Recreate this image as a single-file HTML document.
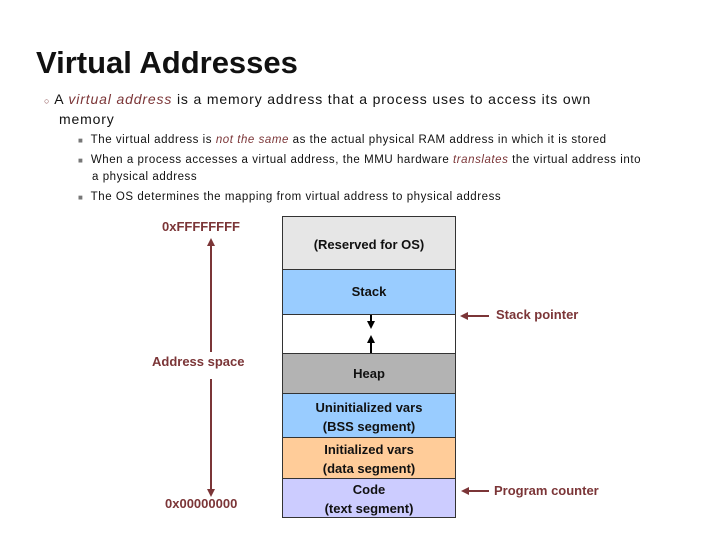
<!DOCTYPE html>
<html><head><meta charset="utf-8"><style>
body{margin:0;width:720px;height:540px;background:#fff;position:relative;overflow:hidden;font-family:"Liberation Sans",sans-serif}
.a{position:absolute;white-space:nowrap}
.r{color:#7b3537}
.seg{position:absolute;left:282px;width:174px;border:1px solid #333;box-sizing:border-box;font-weight:bold;font-size:13px;text-align:center;color:#111}
.s{font-size:11.5px;color:#111;letter-spacing:0.55px}
</style></head><body>
<div class="a" style="left:36px;top:45px;font-size:31px;font-weight:bold;color:#111">Virtual Addresses</div>
<div class="a" style="left:44px;top:91px;font-size:14px;color:#111;letter-spacing:0.85px">
<span style="font-size:9px;color:#7b3537">○</span> A <i class="r">virtual address</i> is a memory address that a process uses to access its own</div>
<div class="a" style="left:59px;top:111px;font-size:14px;color:#111;letter-spacing:0.85px">memory</div>
<div class="a s" style="left:78px;top:134px"><span style="font-size:8px;color:#777">■</span>&nbsp; The virtual address is <i class="r">not the same</i> as the actual physical RAM address in which it is stored</div>
<div class="a s" style="left:78px;top:154px"><span style="font-size:8px;color:#777">■</span>&nbsp; When a process accesses a virtual address, the MMU hardware <i class="r">translates</i> the virtual address into</div>
<div class="a s" style="left:92px;top:171px">a physical address</div>
<div class="a s" style="left:78px;top:191px"><span style="font-size:8px;color:#777">■</span>&nbsp; The OS determines the mapping from virtual address to physical address</div>

<div class="seg" style="top:216px;height:54px;background:#e6e6e6;line-height:56px">(Reserved for OS)</div>
<div class="seg" style="top:269px;height:46px;background:#99ccff;line-height:44px">Stack</div>
<div class="seg" style="top:314px;height:40px;background:#fff"></div>
<div class="seg" style="top:353px;height:41px;background:#b3b3b3;line-height:40px">Heap</div>
<div class="seg" style="top:393px;height:45px;background:#99ccff;line-height:19px;padding-top:4px">Uninitialized vars<br>(BSS segment)</div>
<div class="seg" style="top:437px;height:42px;background:#ffcc99;line-height:19px;padding-top:2px">Initialized vars<br>(data segment)</div>
<div class="seg" style="top:478px;height:40px;background:#ccccff;line-height:19px;padding-top:1px">Code<br>(text segment)</div>

<svg class="a" style="left:0;top:0" width="720" height="540">
<defs><marker id="h" markerWidth="8" markerHeight="8" refX="6" refY="4" orient="auto" markerUnits="userSpaceOnUse"><path d="M0,0L8,4L0,8z" fill="#7b3537"/></marker>
<marker id="k" markerWidth="8" markerHeight="8" refX="6" refY="4" orient="auto" markerUnits="userSpaceOnUse"><path d="M0,0L8,4L0,8z" fill="#000"/></marker></defs>
<line x1="211" y1="352" x2="211" y2="240" stroke="#7b3537" stroke-width="2" marker-end="url(#h)"/>
<line x1="211" y1="379" x2="211" y2="495" stroke="#7b3537" stroke-width="2" marker-end="url(#h)"/>
<line x1="371" y1="315" x2="371" y2="327" stroke="#000" stroke-width="2" marker-end="url(#k)"/>
<line x1="371" y1="353" x2="371" y2="337" stroke="#000" stroke-width="2" marker-end="url(#k)"/>
<line x1="489" y1="316" x2="462" y2="316" stroke="#7b3537" stroke-width="2" marker-end="url(#h)"/>
<line x1="489" y1="491" x2="463" y2="491" stroke="#7b3537" stroke-width="2" marker-end="url(#h)"/>
</svg>
<div class="a r" style="left:162px;top:219px;font-size:13px;font-weight:bold">0xFFFFFFFF</div>
<div class="a r" style="left:152px;top:354px;font-size:13px;font-weight:bold">Address space</div>
<div class="a r" style="left:165px;top:496px;font-size:13px;font-weight:bold">0x00000000</div>
<div class="a r" style="left:496px;top:307px;font-size:13px;font-weight:bold">Stack pointer</div>
<div class="a r" style="left:494px;top:483px;font-size:13px;font-weight:bold">Program counter</div>
</body></html>
